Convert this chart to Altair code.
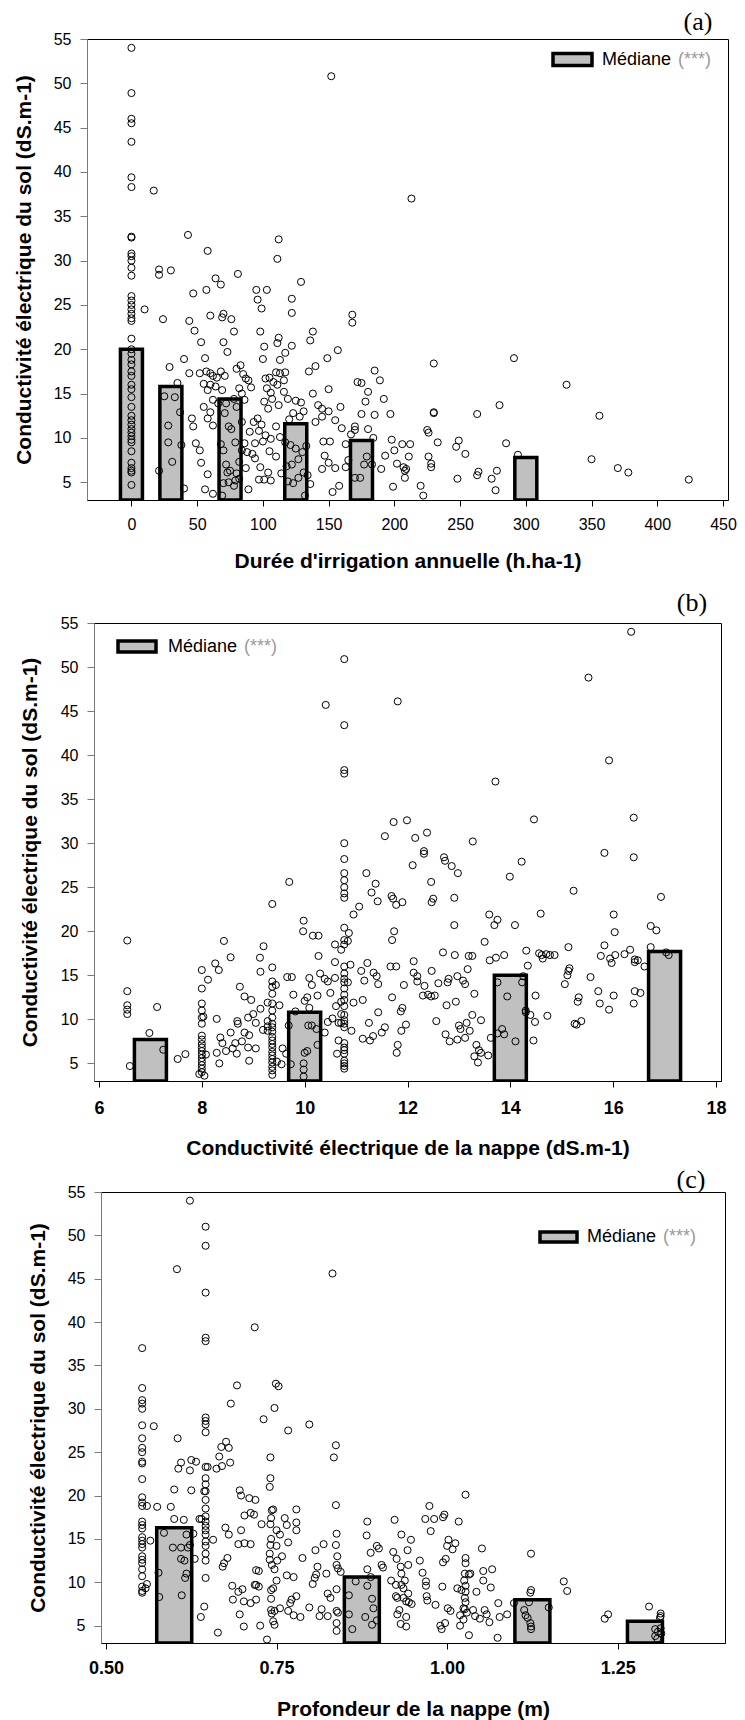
import altair as alt
import pandas as pd

FONT = "Liberation Sans"
SERIF = "Liberation Serif"
BAR_FILL = "#c0c0c0"
STAR_GREY = "#9a9a9a"

Y_TITLE = "Conductivité électrique du sol (dS.m-1)"
Y_TICKS = [5, 10, 15, 20, 25, 30, 35, 40, 45, 50, 55]
Y_DOMAIN = [3, 55]
LEGEND_WORD = "Médiane"
LEGEND_STARS = "(***)"

# ---------------- panel (a) ----------------
A_X_TITLE = "Durée d'irrigation annuelle (h.ha-1)"
A_X_TICKS = [0, 50, 100, 150, 200, 250, 300, 350, 400, 450]
A_X_DOMAIN = [-30, 450]
A_BAR_X = [0, 30, 75, 125, 175, 300]
A_BAR_MEDIAN = [20.0, 15.8, 14.4, 11.6, 9.7, 7.8]
A_POINTS = [
    (0, 54), (0, 48.9), (0, 46), (0, 45.5), (0, 43.4), (0, 39.4), (0, 38.3), (0, 32.7), (0, 32.6),
    (0, 30.8), (0, 30.5), (0, 30), (0, 29.2), (0, 28.3), (0, 26), (0, 25.5), (0, 25), (0, 24.5),
    (0, 24), (0, 23.5), (0, 23.2), (0, 21.2), (0, 20), (0, 19.5), (0, 18.8), (0, 18.3), (0, 17.5),
    (0, 17), (0, 16), (0, 15.5), (0, 14.6), (0, 13.5), (0, 12.5), (0, 12), (0, 11.5), (0, 11),
    (0, 10.6), (0, 10.2), (0, 9.8), (0, 9.5), (0, 8.5), (0, 7.2), (0, 6.6), (0, 6.3), (0, 6.1), (0, 4.7),
    (17, 37.9), (10, 24.5), (21, 29), (21, 28.4), (30, 28.9), (24, 23.4), (29, 18), (35, 16.2),
    (25, 14.7), (33, 14.6), (28, 11.4), (28, 9.5), (31, 7.3), (21, 6.3), (37, 12.9), (38, 9.2),
    (40, 4.3), (43, 32.9), (40, 18.9), (44, 23.2), (47, 26.3), (48, 22.1), (44, 17.3), (46, 12.2),
    (47, 11.3), (49, 9.4), (52, 8.6), (53, 7.2), (58, 5.9), (56, 4.2), (62, 3.7), (69, 3.5),
    (53, 20.8), (57, 26.7), (58, 31.1), (56, 19), (60, 23.8), (64, 28), (68, 27.3), (69, 23.6),
    (70, 24), (70, 20.8), (73, 19.7), (76, 23.4), (78, 22), (81, 28.5),
    (52, 17.3), (57, 17.5), (60, 17.3), (62, 17), (65, 16.8), (68, 17.5), (71, 17), (55, 16.1),
    (60, 16), (64, 15.8), (69, 15.4), (58, 15.4), (62, 14.3), (55, 13.5), (66, 13.9), (60, 12.9),
    (58, 12.2), (62, 11.4), (71, 12.8), (74, 11.3), (72, 13.9), (80, 17.8), (83, 18.2), (85, 17.2),
    (87, 16.7), (89, 16.5), (82, 15.6), (84, 15), (78, 14.4), (86, 14.3), (80, 13.5), (91, 15.7),
    (68, 9.3), (70, 8.6), (72, 7), (75, 6.3), (74, 5), (78, 4.6), (80, 6), (82, 7.3), (84, 8.6),
    (86, 9.4), (88, 8.4), (90, 10.7), (92, 8.2), (89, 4.2), (79, 5.2), (82, 5.4), (76, 11),
    (79, 9.5), (84, 11.8), (70, 4.9), (73, 6.1), (87, 6.6),
    (95, 26.7), (96, 25.6), (103, 26.7), (99, 24.6), (98, 22), (101, 20.3), (100, 18.9),
    (111, 30.2), (112, 32.4), (112, 21.3), (111, 20.7), (113, 18.8), (117, 19.6), (122, 20.4),
    (122, 25.7), (122, 24.1), (129, 27.6), (136, 21), (138, 22), (140, 18.1), (135, 17.5),
    (149, 19), (157, 19.9), (150, 15.5), (138, 15), (142, 13.7), (145, 12.4), (140, 11.8), (146, 9.6),
    (102, 16.7), (105, 16.8), (108, 16.3), (103, 15.6), (106, 15.1), (110, 17.4), (113, 17.3),
    (117, 17.4), (111, 16), (116, 16.5), (101, 14.1), (104, 13.3), (107, 14.4), (112, 13.7),
    (116, 15.2), (119, 14.4), (125, 14.2), (129, 14), (131, 13), (123, 12.8), (120, 12.1),
    (128, 12.4), (96, 12.2), (93, 11.8), (99, 11.5), (97, 10.8), (102, 10.3), (100, 9.6), (94, 9.4),
    (106, 9.9), (110, 11.3), (113, 10.1), (117, 9.5), (121, 9.2), (125, 8.8), (130, 8.4), (133, 9.1),
    (127, 7.6), (122, 7), (118, 6.8), (114, 6), (119, 5.1), (123, 4.9), (127, 5.5), (131, 6.1),
    (134, 5.8), (136, 4.8), (132, 3.5), (101, 5.3), (104, 6.1), (106, 5.2), (97, 5.3), (94, 7.7),
    (98, 6.7), (110, 7.9), (105, 8.5),
    (145, 13.3), (150, 13), (155, 12), (151, 9.6), (147, 8), (150, 7.2), (155, 6.6), (145, 6.5),
    (158, 4.6), (153, 3.9), (160, 11.1), (163, 9.3), (167, 10.4), (170, 10.9), (170, 11.3),
    (175, 12.7), (178, 14.1), (172, 16.3), (175, 16.2), (180, 15.2), (185, 17.6), (189, 16.5),
    (192, 14.4), (185, 12.6), (180, 11), (184, 10), (179, 7.9), (177, 7), (174, 5.5), (183, 7),
    (190, 6.5), (193, 8), (198, 9.8), (197, 12.7), (200, 8.6), (202, 7.1), (199, 4.5), (206, 9.3),
    (207, 6.7), (208, 6.3), (209, 6.5), (211, 7.9), (212, 9.3), (208, 5.5), (168, 23.9), (168, 23),
    (213, 37), (159, 13.5), (163, 6.7), (165, 7.5), (170, 5.5), (152, 50.8),
    (220, 4.6), (222, 3.5), (225, 10.9), (226, 10.6), (226, 7.9), (228, 7.1), (228, 6.7), (230, 18.4),
    (230, 12.8), (230, 12.9), (233, 9.5), (247, 9), (249, 9.7), (248, 5.4), (254, 8.2), (263, 12.7),
    (264, 6.2), (263, 5.8), (274, 5.4), (277, 4.1), (278, 6.3), (280, 13.7), (285, 9.4), (291, 19),
    (294, 8.1), (331, 16), (350, 7.6), (356, 12.5), (370, 6.6), (378, 6.1), (424, 5.3),
]

# ---------------- panel (b) ----------------
B_X_TITLE = "Conductivité électrique de la nappe (dS.m-1)"
B_X_TICKS = [6, 8, 10, 12, 14, 16, 18]
B_X_DOMAIN = [6, 18]
B_BAR_X = [7, 10, 14, 17]
B_BAR_MEDIAN = [7.7, 10.8, 15.0, 17.7]
B_POINTS = [
    (6.55, 18.95), (6.55, 13.2), (6.55, 11.6), (6.55, 11.1), (6.55, 10.6), (6.6, 4.7), (6.98, 8.45),
    (7.13, 11.4), (7.25, 6.55), (7.53, 5.5), (7.68, 6.05),
    (8, 15.6), (8, 13.5), (8, 11.8), (8, 11), (8, 10.2), (8, 9.5), (8, 8.15), (8, 7.7), (8, 7.2),
    (8, 6.8), (8, 6.4), (8, 6), (8, 5.6), (8, 5.2), (8, 4.8), (8, 4.4), (8, 4), (7.95, 3.8),
    (8.05, 3.6), (8.03, 10.3), (8.08, 6),
    (8.26, 16.35), (8.33, 15.6), (8.43, 18.9), (8.12, 14.5), (8.56, 17.05), (8.29, 10.05),
    (8.36, 7.94), (8.4, 7.3), (8.29, 6.2), (8.34, 5), (8.47, 6.4), (8.6, 6.7), (8.65, 7.3),
    (8.56, 8.5), (8.69, 9.8), (8.7, 9.5), (8.68, 6.1), (8.74, 13.7), (8.83, 12.6), (8.83, 8.5),
    (8.78, 7.5), (8.9, 6.8), (8.9, 10.2), (8.92, 5.3), (8.96, 12.2), (9.05, 9.6), (9.14, 11.2),
    (9.0, 10.6), (9.13, 17), (9.14, 15.4), (9.2, 18.3), (9.05, 6.7), (8.92, 8.2), (9.19, 8.8),
    (9.28, 11.9),
    (9.37, 23.1), (9.37, 15.9), (9.37, 14.3), (9.37, 13.7), (9.37, 12.9), (9.37, 11.8), (9.37, 11),
    (9.37, 10.2), (9.37, 9.5), (9.37, 9.1), (9.37, 8.6), (9.37, 8), (9.37, 7.6), (9.37, 7.2),
    (9.37, 6.8), (9.37, 6.3), (9.37, 5.9), (9.37, 5.5), (9.37, 5.1), (9.37, 4.6), (9.37, 4.2),
    (9.37, 3.7), (9.28, 9.8), (9.28, 9.2), (9.28, 8.7),
    (9.44, 13.9), (9.51, 11.6), (9.46, 5.2), (9.55, 4.9), (9.7, 25.6), (9.75, 14.8), (9.66, 14.8),
    (9.57, 6.7), (9.78, 12.8), (9.82, 10.9), (9.69, 9.3), (9.64, 6.1), (9.73, 4.9),
    (9.98, 21.2), (9.97, 20), (10.05, 12.5), (10.0, 12.1), (10.09, 14.7), (10.14, 13.9),
    (10.16, 19.5), (10.27, 19.5), (10.27, 17.2), (10.25, 12.7), (10.09, 11.3), (10.07, 9.3),
    (10.14, 9.3), (10.23, 8.9), (10.25, 7.1), (10.0, 6.2), (9.98, 5), (10.05, 6.4), (9.98, 4.3),
    (9.98, 3.5),
    (10.41, 45.7), (10.3, 15.2), (10.39, 14.6), (10.45, 14.3), (10.5, 13), (10.45, 9.7),
    (10.39, 8.5), (10.54, 10.1), (10.61, 11.5), (10.59, 18.5), (10.59, 16.5), (10.59, 14.7),
    (10.71, 17.9), (10.66, 9.6), (10.66, 7.6), (10.63, 6.1),
    (10.77, 50.9), (10.77, 43.4), (10.77, 38.3), (10.77, 37.9), (10.77, 30), (10.77, 28.2),
    (10.77, 26.6), (10.77, 25.8), (10.77, 25), (10.77, 24.3), (10.77, 23.8), (10.77, 20.4),
    (10.77, 19), (10.77, 18.5), (10.77, 16), (10.77, 15.2), (10.77, 14.6), (10.77, 14.2),
    (10.77, 13.5), (10.77, 12.8), (10.77, 12.2), (10.77, 11.5), (10.77, 10.5), (10.77, 9.9),
    (10.77, 9.5), (10.77, 9.1), (10.77, 7.3), (10.77, 6.8), (10.77, 6.5), (10.77, 6.1), (10.77, 5.3),
    (10.77, 5), (10.77, 4.7), (10.77, 4.4), (10.71, 12), (10.71, 10.6), (10.71, 9.6),
    (10.86, 19.8), (10.84, 18.9), (10.89, 16.2), (10.84, 14.2), (10.95, 11.9), (10.95, 21.9),
    (10.91, 8.7), (11.06, 22.8),
    (11.2, 26.6), (11.1, 15.5), (11.22, 16.4), (11.16, 14.4), (11.13, 12.2), (11.38, 25.4),
    (11.3, 24.4), (11.42, 23.4), (11.34, 15.3), (11.4, 14.9), (11.43, 14), (11.43, 10.8),
    (11.25, 9.6), (11.13, 7.8), (11.27, 7.6), (11.33, 8.1), (11.5, 8.5), (11.56, 9.1),
    (11.56, 30.8), (11.73, 32.4), (11.69, 24), (11.72, 23.7), (11.78, 23), (11.74, 20), (11.7, 19),
    (11.67, 16), (11.78, 16), (11.7, 12.5), (11.81, 46.1), (11.81, 7.1), (11.79, 6.2), (11.9, 23.3),
    (11.9, 11.3), (11.87, 10.9), (11.88, 8.7), (11.97, 9.4), (11.93, 13.9), (11.99, 32.6),
    (12.15, 30.6), (12.1, 27.5), (12.12, 16.6), (12.12, 15.3), (12.19, 14.9), (12.19, 14.3),
    (12.32, 29.1), (12.32, 28.8), (12.38, 31.2), (12.33, 13.8), (12.3, 12.7), (12.4, 12.8),
    (12.46, 12.6), (12.53, 12.7), (12.46, 25.6), (12.5, 23.7), (12.47, 23.3), (12.47, 15.5),
    (12.56, 9.8), (12.6, 14.1), (12.69, 17.6), (12.71, 28.4), (12.73, 28), (12.76, 11.6),
    (12.74, 8.3), (12.8, 14.6), (12.78, 14.2), (12.82, 7.5), (12.86, 27.4), (12.91, 23.8),
    (12.91, 20.7), (12.92, 17.3), (12.94, 12), (12.97, 14.9), (12.98, 26.6), (13.0, 9.3),
    (13.03, 8.9), (12.97, 7.7), (13.08, 14.4), (13.12, 14), (13.12, 7.9), (13.15, 9.6),
    (13.17, 15.7), (13.19, 17.2), (13.26, 17.2), (13.21, 8.7), (13.26, 10.5), (13.27, 30.2),
    (13.3, 12.9), (13.3, 5.8), (13.34, 7.1), (13.39, 6.5), (13.37, 5.1), (13.43, 6.2), (13.43, 9.9),
    (13.5, 18.8), (13.57, 5.9), (13.59, 21.9), (13.6, 16.7), (13.62, 7.9), (13.71, 37), (13.69, 20.7),
    (13.75, 21.3), (13.72, 17), (13.75, 14.2), (13.75, 8.4), (13.84, 8.9), (13.88, 8.3),
    (13.88, 17.3), (13.94, 12.6), (13.99, 26.2), (14.09, 20.7), (14.1, 7.5), (14.22, 27.9),
    (14.25, 14.9), (14.23, 14.2), (14.3, 11), (14.3, 10.8), (14.31, 17.8), (14.34, 16.1),
    (14.39, 10.5), (14.46, 32.7), (14.45, 7.6), (14.49, 12.7), (14.48, 9.7), (14.59, 22),
    (14.56, 17.5), (14.61, 17.3), (14.63, 16.9), (14.7, 17.4), (14.72, 10.4), (14.77, 17.3),
    (14.86, 17.3),
    (15.06, 14), (15.11, 15), (15.13, 15.5), (15.15, 15.8), (15.13, 18.2), (15.23, 24.6),
    (15.25, 9.5), (15.29, 9.4), (15.33, 12.5), (15.31, 12), (15.38, 9.8), (15.52, 48.8),
    (15.56, 14.8), (15.71, 13.2), (15.74, 11.8), (15.76, 17.2), (15.83, 18.4), (15.83, 28.9),
    (15.92, 39.4), (15.92, 11.1), (15.94, 16.9), (15.97, 16.4), (16.01, 12.7), (16.01, 21.9),
    (16.03, 19.9), (16.04, 17.3), (16.22, 17.4), (16.33, 17.9), (16.35, 54), (16.4, 32.9),
    (16.4, 28.4), (16.42, 16.8), (16.42, 16.5), (16.42, 13.2), (16.4, 11.8), (16.48, 16.7),
    (16.53, 13), (16.61, 16), (16.73, 18.2), (16.73, 20.6), (16.84, 20.1), (16.93, 23.9),
    (17.03, 17.6), (17.08, 17.3),
]

# ---------------- panel (c) ----------------
C_X_TITLE = "Profondeur de la nappe (m)"
C_X_TICKS = [0.5, 0.75, 1.0, 1.25]
C_X_DOMAIN = [0.5, 1.4]
C_BAR_X = [0.60, 0.875, 1.125, 1.29]
C_BAR_MEDIAN = [16.3, 10.6, 8.0, 5.5]
C_POINTS = [
    (0.553, 37), (0.553, 32.4), (0.553, 31), (0.553, 30.6), (0.553, 30), (0.553, 28.1),
    (0.553, 26.6), (0.553, 25.5), (0.553, 25), (0.553, 23.9), (0.553, 23.7), (0.553, 21.9),
    (0.553, 19.8), (0.553, 19.2), (0.553, 18.8), (0.553, 17), (0.553, 16.6), (0.553, 16.2),
    (0.553, 15.2), (0.553, 14.8), (0.553, 14.4), (0.553, 14), (0.553, 13), (0.553, 12.6),
    (0.553, 12.2), (0.553, 11.5), (0.553, 10.7), (0.553, 9.5), (0.553, 9), (0.553, 8.8),
    (0.56, 18.8), (0.565, 14.8), (0.56, 9.8), (0.558, 9.3), (0.57, 28), (0.575, 18.7), (0.577, 11.1),
    (0.578, 8.3), (0.585, 15.7), (0.595, 18.7), (0.6, 20.7), (0.605, 26.6), (0.606, 23.1),
    (0.61, 23.8), (0.6, 17.3), (0.614, 17.2), (0.61, 14), (0.598, 14), (0.61, 12.7), (0.62, 14),
    (0.615, 12.5), (0.611, 8.5), (0.616, 10.5), (0.618, 11), (0.618, 15.5), (0.623, 14.3),
    (0.623, 54), (0.604, 46.1), (0.625, 24.1), (0.623, 22.9), (0.625, 20.6), (0.628, 15.6),
    (0.63, 12.7), (0.632, 23.9), (0.637, 17.3), (0.64, 17.3), (0.644, 20.5), (0.639, 6), (0.644, 7.2),
    (0.646, 51), (0.646, 48.8), (0.646, 43.4), (0.646, 38.2), (0.646, 37.8), (0.646, 29),
    (0.646, 28.6), (0.646, 28.2), (0.646, 27.3), (0.646, 23.3), (0.646, 22), (0.646, 21.3),
    (0.646, 20.5), (0.646, 19.5), (0.646, 18.5), (0.646, 17.6), (0.646, 17), (0.646, 16.5),
    (0.646, 16), (0.646, 15.5), (0.646, 14.7), (0.646, 14.2), (0.646, 13.3), (0.646, 12.5),
    (0.646, 10.5),
    (0.649, 23.3), (0.657, 14.9), (0.664, 4.2), (0.662, 23.1), (0.666, 24.5), (0.669, 25.6),
    (0.67, 23.4), (0.671, 11.8), (0.673, 12.2), (0.675, 16.3), (0.676, 26.2), (0.68, 25.5),
    (0.682, 23.8), (0.683, 30.6), (0.68, 15.5), (0.678, 12.8), (0.685, 9.6), (0.686, 8),
    (0.692, 32.7), (0.696, 20.6), (0.698, 20), (0.698, 16), (0.694, 14.4), (0.694, 8.9),
    (0.696, 6.3), (0.7, 9.2), (0.702, 7.8), (0.702, 4.9), (0.703, 14.5), (0.703, 17.7), (0.71, 19.7),
    (0.712, 18), (0.712, 14.4), (0.712, 7.6), (0.718, 9.7), (0.718, 39.4), (0.717, 17.8),
    (0.719, 19.5), (0.72, 11.4), (0.724, 11.3), (0.72, 9.7), (0.72, 8), (0.724, 9.5), (0.726, 5),
    (0.728, 16.7), (0.731, 28.8), (0.736, 3.4), (0.74, 21), (0.741, 22), (0.741, 24.4),
    (0.743, 18.3), (0.742, 17.4), (0.741, 16.7), (0.742, 15), (0.741, 14.3), (0.74, 13.3),
    (0.74, 12.6), (0.743, 12), (0.742, 9.1), (0.742, 8.1), (0.742, 6.8), (0.743, 6.4), (0.747, 6.7),
    (0.745, 5.5), (0.747, 5.1), (0.745, 9.3), (0.747, 11.5), (0.747, 30.1), (0.749, 32.9),
    (0.753, 32.6), (0.745, 18.4), (0.75, 16), (0.75, 14.2), (0.751, 12.5), (0.75, 10.2), (0.755, 7),
    (0.755, 15.5), (0.758, 13), (0.762, 17.4), (0.767, 27.5), (0.765, 16.6), (0.767, 14.6),
    (0.765, 10.8), (0.767, 6.7), (0.77, 7.6), (0.772, 8), (0.775, 10.6), (0.779, 18.4), (0.779, 16.9),
    (0.779, 16), (0.779, 8.4), (0.775, 6.2), (0.785, 6), (0.788, 12.8), (0.798, 28.2), (0.798, 7.1),
    (0.803, 9.8), (0.807, 13.7), (0.81, 11.8), (0.808, 10.9), (0.806, 10.5), (0.813, 6.1),
    (0.819, 14.4), (0.823, 11), (0.825, 8.7), (0.816, 6.9), (0.825, 6.1), (0.829, 8.2),
    (0.832, 45.6), (0.834, 24.4), (0.837, 25.8), (0.837, 18.9), (0.838, 15.6), (0.837, 14.3),
    (0.839, 13), (0.838, 12), (0.84, 11.6), (0.838, 9.2), (0.838, 6.7), (0.84, 6.5), (0.838, 5.3),
    (0.838, 4.4), (0.844, 11.2), (0.856, 6.3), (0.861, 4.6), (0.856, 8.5), (0.866, 10.1), (0.88, 6),
    (0.883, 9.6), (0.883, 17), (0.882, 15.4), (0.883, 11.5), (0.888, 13.4), (0.888, 10.6),
    (0.89, 8.1), (0.892, 7), (0.89, 5.1), (0.897, 5.6), (0.897, 14.2), (0.9, 13.9), (0.904, 12),
    (0.906, 11.7), (0.918, 10.2), (0.923, 17.2), (0.921, 13.5), (0.926, 12.7), (0.925, 9.7),
    (0.925, 8.4), (0.927, 8.2), (0.927, 6.3), (0.933, 15.5), (0.932, 11.8), (0.933, 11),
    (0.933, 9.7), (0.936, 9.3), (0.936, 8.2), (0.94, 7.8), (0.93, 6.8), (0.932, 5.2), (0.942, 13.7),
    (0.943, 12), (0.938, 10.2), (0.943, 8.7), (0.944, 7.7), (0.94, 6), (0.94, 4.9), (0.947, 14.9),
    (0.948, 7.5), (0.96, 12.5), (0.964, 11.1), (0.968, 17.3), (0.969, 9.6), (0.969, 10.1),
    (0.97, 8.4), (0.971, 7.9), (0.974, 18.8), (0.976, 15.9), (0.981, 17.3), (0.983, 7.4), (0.99, 5),
    (0.992, 4.6), (0.993, 9.5), (0.994, 17.5), (0.996, 17.8), (0.994, 12.3), (0.998, 12.7),
    (0.997, 5.3), (1.0, 14.2), (1.002, 14.9), (1.001, 7), (1.005, 6.7), (1.008, 13.8),
    (1.012, 14.5), (1.017, 17), (1.015, 9.3), (1.019, 5), (1.019, 6.2), (1.021, 9.1), (1.024, 7),
    (1.027, 20.1), (1.027, 12.8), (1.027, 12.2), (1.026, 11), (1.025, 10.2), (1.027, 9.6),
    (1.027, 8.9), (1.026, 8.2), (1.027, 7.7), (1.026, 6.9), (1.029, 6.5), (1.024, 5.7),
    (1.032, 10.9), (1.032, 3.9), (1.034, 11), (1.038, 6.8), (1.041, 6.1), (1.043, 8.9),
    (1.048, 5.8), (1.051, 13.9), (1.053, 11.3), (1.053, 10.2), (1.055, 6.8), (1.058, 6.3),
    (1.062, 5.4), (1.064, 9.4), (1.066, 11.5), (1.074, 3.6), (1.077, 6), (1.075, 7.6),
    (1.088, 6.3), (1.098, 7.6), (1.113, 6.8), (1.115, 6.2), (1.123, 13.3), (1.123, 9.1),
    (1.122, 8.8), (1.12, 7.7), (1.118, 5.9), (1.122, 5.3), (1.123, 4.6), (1.123, 4.9), (1.149, 7.1),
    (1.171, 10.1), (1.176, 9), (1.231, 5.8), (1.236, 6.3), (1.296, 7.2), (1.313, 6.4), (1.313, 6.1),
    (1.305, 4.6), (1.309, 4.3), (1.305, 3.8), (1.308, 3.5), (1.312, 5.9), (1.313, 4.7), (1.314, 4.1),
]

ONE = pd.DataFrame({"k": [0]})


def panel(points, bar_x, bar_med, x_domain, x_ticks, x_format, x_title, width, height,
          bar_size, label_bold, label_size, label_pad, title_pad, y_title_pad,
          legend, star_dx, tag, tag_xy, bounds):
    pts = pd.DataFrame(points, columns=["x", "y"])
    med = pd.DataFrame({"x": bar_x, "y": bar_med})
    xs = alt.Scale(domain=x_domain, nice=False, zero=False)
    ys = alt.Scale(domain=Y_DOMAIN, nice=False, zero=False)
    xa = alt.Axis(values=x_ticks, format=x_format, title=x_title, grid=False, labelFlush=False,
                  labelOverlap=False, labelFont=FONT, labelFontSize=label_size,
                  labelFontWeight="bold" if label_bold else "normal", labelColor="black",
                  labelPadding=label_pad, tickSize=6, tickColor="black", domainColor="black",
                  titleFont=FONT, titleFontSize=21, titleFontWeight="bold", titleColor="black",
                  titlePadding=title_pad)
    ya = alt.Axis(values=Y_TICKS, title=Y_TITLE, grid=False, labelFlush=False, labelOverlap=False,
                  labelFont=FONT, labelFontSize=16, labelColor="black", labelPadding=9,
                  tickSize=7, tickColor="#7a7a7a", domainColor="#7a7a7a",
                  titleFont=FONT, titleFontSize=21, titleFontWeight="bold", titleColor="black",
                  titlePadding=y_title_pad)
    X = alt.X("x:Q", scale=xs, axis=xa)
    Y = alt.Y("y:Q", scale=ys, axis=ya)
    bars = alt.Chart(med).mark_bar(size=bar_size, fill=BAR_FILL, stroke="black", strokeWidth=3.5,
                                   clip=True).encode(x=X, y=Y, y2=alt.datum(3))
    dots = alt.Chart(pts).mark_point(shape="circle", size=50, filled=False, color="black",
                                     strokeWidth=1, opacity=1).encode(x=X, y=Y)
    lx, ly, lw, lh, tx = legend
    box = alt.Chart(ONE).mark_rect(fill=BAR_FILL, stroke="black", strokeWidth=3.5).encode(
        x=alt.value(lx), x2=alt.value(lx + lw), y=alt.value(ly), y2=alt.value(ly + lh))
    word = alt.Chart(ONE).mark_text(text=LEGEND_WORD, font=FONT, fontSize=18, align="left",
                                    baseline="middle", color="black").encode(
        x=alt.value(tx), y=alt.value(ly + lh / 2))
    stars = alt.Chart(ONE).mark_text(text=LEGEND_STARS, font=FONT, fontSize=18, align="left",
                                     baseline="middle", color=STAR_GREY).encode(
        x=alt.value(tx + star_dx), y=alt.value(ly + lh / 2))
    tagmark = alt.Chart(ONE).mark_text(text=tag, font=SERIF, fontSize=26, align="center",
                                       baseline="alphabetic", color="black").encode(
        x=alt.value(tag_xy[0]), y=alt.value(tag_xy[1]))
    left, top, bottom = bounds
    frame = alt.Chart(ONE).mark_rect(opacity=0).encode(
        x=alt.value(-left), x2=alt.value(width), y=alt.value(-top), y2=alt.value(height + bottom))
    return alt.layer(bars, dots, box, word, stars, tagmark, frame).properties(width=width, height=height)


def row(shift, chart):
    spacer = alt.Chart(ONE).mark_rect(opacity=0).encode(
        x=alt.value(0), x2=alt.value(1), y=alt.value(0), y2=alt.value(1)
    ).properties(width=shift, height=1, view=alt.ViewBackground(strokeWidth=0))
    return alt.hconcat(spacer, chart, spacing=0)


pa = panel(A_POINTS, A_BAR_X, A_BAR_MEDIAN, A_X_DOMAIN, A_X_TICKS, "d", A_X_TITLE,
           641, 461, 22, False, 16, 10, 18, 19,
           (466, 14.5, 39, 12, 515), 76, "(a)", (611, -9), (95, 40, 81))
pb = panel(B_POINTS, B_BAR_X, B_BAR_MEDIAN, B_X_DOMAIN, B_X_TICKS, "d", B_X_TITLE,
           627, 458, 32, True, 18, 12, 20, 20,
           (24, 18, 38, 11, 74), 76, "(b)", (598, -12), (95, 40, 80))
pc = panel(C_POINTS, C_BAR_X, C_BAR_MEDIAN, C_X_DOMAIN, C_X_TICKS, ".2f", C_X_TITLE,
           624, 451, 35, True, 18, 10, 21, 19,
           (439, 40, 37, 10, 486), 76, "(c)", (590, -4), (95, 29, 75))

chart = alt.vconcat(row(1, pa), row(8, pb), row(15, pc), spacing=0).properties(
    padding={"top": -10, "left": -18, "right": 0, "bottom": 0}, background="white"
).configure_view(stroke="black", strokeWidth=1)

chart.save("out.html", embed_options={"renderer": "svg", "actions": False})
